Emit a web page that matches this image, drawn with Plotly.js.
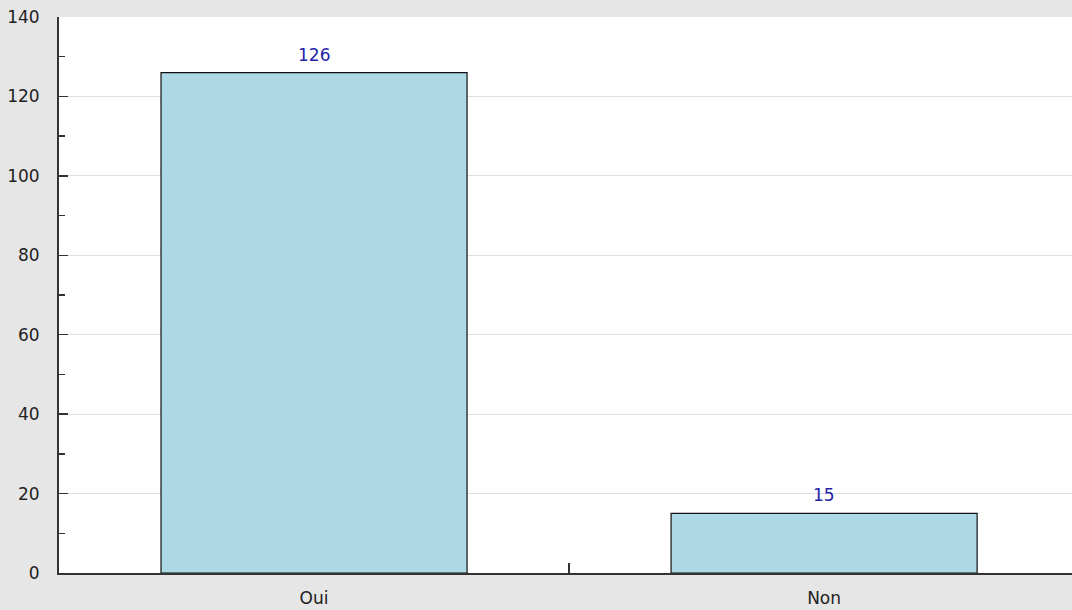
<!DOCTYPE html>
<html>
<head>
<meta charset="utf-8">
<script src="https://cdn.plot.ly/plotly-3.0.1.min.js"></script>
<style>html,body{margin:0;padding:0;background:#e6e6e6;overflow:hidden;}</style>
</head>
<body>
<div id="chart" style="width:1072px;height:610px;"></div>
<script>
const categories = ["Oui", "Non"];
const values = [126, 15];

const trace = {
  type: 'bar',
  x: categories,
  y: values,
  width: 0.6,
  marker: {color: '#add8e6', line: {color: '#111111', width: 1.2}},
  hoverinfo: 'x+y'
};

const annotations = categories.map((c, i) => ({
  x: c, y: values[i], xref: 'x', yref: 'y',
  text: String(values[i]),
  showarrow: false,
  yanchor: 'bottom',
  yshift: 6,
  font: {family: 'DejaVu Sans, sans-serif', size: 17, color: '#2323a8'}
}));

const layout = {
  width: 1072, height: 610,
  paper_bgcolor: '#e6e6e6',
  plot_bgcolor: '#ffffff',
  margin: {l: 59, r: 0, t: 17, b: 37, pad: 0},
  showlegend: false,
  font: {family: 'DejaVu Sans, sans-serif', size: 17, color: '#222222'},
  annotations: annotations,
  xaxis: {
    type: 'category',
    range: [-0.5, 1.486],
    tickson: 'boundaries',
    ticks: 'inside',
    ticklen: 10,
    tickwidth: 1.5,
    tickcolor: '#333333',
    ticklabelstandoff: 9,
    showline: true,
    linecolor: '#333333',
    linewidth: 2,
    showgrid: false,
    zeroline: false,
    fixedrange: true
  },
  yaxis: {
    range: [0, 140],
    dtick: 20,
    tick0: 0,
    ticks: 'inside',
    ticklen: 9,
    tickwidth: 1.5,
    tickcolor: '#333333',
    ticklabelstandoff: 14,
    showline: true,
    linecolor: '#333333',
    linewidth: 2,
    showgrid: true,
    gridcolor: '#e0e0e0',
    gridwidth: 1,
    zeroline: false,
    minor: {dtick: 10, ticks: 'inside', ticklen: 6, tickwidth: 1.5, tickcolor: '#333333', showgrid: false},
    fixedrange: true
  }
};

Plotly.newPlot('chart', [trace], layout, {displayModeBar: false, staticPlot: true});
</script>
</body>
</html>
